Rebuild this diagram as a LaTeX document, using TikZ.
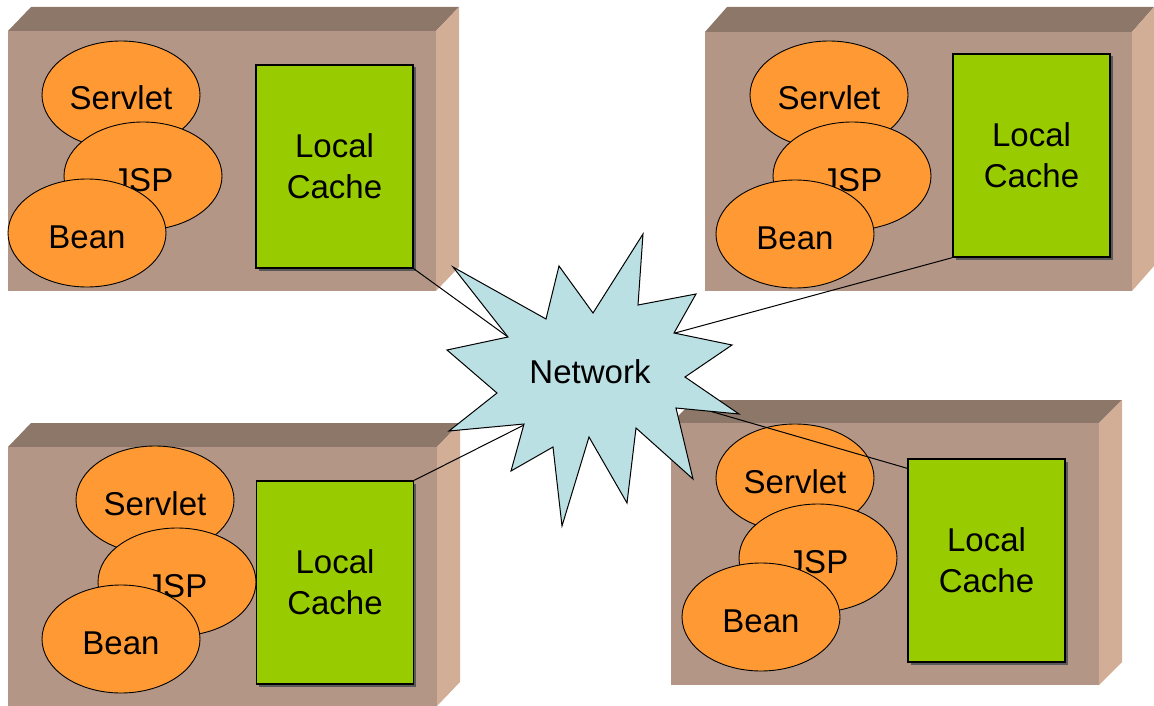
\documentclass[tikz,border=0pt]{standalone}
\usepackage{fontspec}
\setmainfont{Liberation Sans}
\usetikzlibrary{shapes.geometric,shadows,calc}

\definecolor{frontface}{HTML}{B39686}
\definecolor{topface}{HTML}{8C7769}
\definecolor{sideface}{HTML}{D3AE97}
\definecolor{compfill}{HTML}{FF9933}
\definecolor{cachefill}{HTML}{99CC00}
\definecolor{netfill}{HTML}{BAE0E4}

\tikzset{
  labelfont/.style={font=\fontsize{33}{41}\selectfont},
  comp/.style={ellipse, draw=black, line width=0.9pt, fill=compfill,
    minimum width=158pt, minimum height=108pt, inner sep=0pt,
    text height=30pt, text depth=0pt, labelfont},
  cache/.style={rectangle, draw=black, line width=1.3pt, fill=cachefill,
    minimum width=157pt, minimum height=203pt, inner sep=0pt,
    align=center, labelfont,
    drop shadow={shadow xshift=2.5pt, shadow yshift=-2.5pt, fill=black!65, opacity=1}},
  link/.style={draw=black, line width=1pt},
  cloud/.style={fill=netfill, draw=black, line width=1pt, line join=miter},
}

% a 3-D block: front face (left,top)-(right,bottom), depth (dx,dy) up-right
\newcommand\machineblock[6]{%
  \fill[topface] (#1,#2) -- (#1+#5,#2-#6) -- (#3+#5,#2-#6) -- (#3,#2) -- cycle;
  \fill[sideface] (#3,#2) -- (#3+#5,#2-#6) -- (#3+#5,#4-#6) -- (#3,#4) -- cycle;
  \fill[frontface] (#1,#2) rectangle (#3,#4);
}

\begin{document}
\begin{tikzpicture}[x=1pt,y=-1pt]
\useasboundingbox (0,0) rectangle (1154,706);

% ---- server blocks ----
\machineblock{8}{31}{436}{291}{23}{24}
\node[comp] (s1) at (121,95)  {Servlet};
\node[comp] (j1) at (143,176) {JSP};
\node[comp] (b1) at (87,233)  {Bean};
\node[cache] (c1) at (334.5,166.5) {Local\\Cache};

\machineblock{705}{32}{1132}{291}{22}{25}
\node[comp] (s2) at (829,95)  {Servlet};
\node[comp] (j2) at (852,176) {JSP};
\node[comp] (b2) at (795,234) {Bean};
\node[cache] (c2) at (1031.5,155.5) {Local\\Cache};

\machineblock{8}{447}{437}{706}{23}{24}
\node[comp] (s3) at (155,500) {Servlet};
\node[comp] (j3) at (177,582) {JSP};
\node[comp] (b3) at (121,639) {Bean};
\node[cache] (c3) at (335,582.5) {Local\\Cache};

\machineblock{671}{423}{1099}{685}{23}{23}
\node[comp] (s4) at (795,478) {Servlet};
\node[comp] (j4) at (818,558) {JSP};
\node[comp] (b4) at (761,617) {Bean};
\node[cache] (c4) at (986.5,560.5) {Local\\Cache};

% ---- attachment points on the network burst ----
\coordinate (ntl) at (508,337);
\coordinate (ntr) at (675,333);
\coordinate (nbl) at (524,425);
\coordinate (nbr) at (682,403);

% ---- links ----
\draw[link] (c1.south east) -- (ntl);
\draw[link] (c2.south west) -- (ntr);
\draw[link] (c3.north east) -- (nbl);
\draw[link] ($(c4.north west)+(0,10)$) -- (nbr);

% ---- network burst ----
\draw[cloud] (453,267) -- (546,319) -- (559,266) -- (593,313) -- (643,234)
  -- (638,305) -- (696,294) -- (674,333) -- (732,345) -- (685,377)
  -- (739,414) -- (676,408) -- (693,479) -- (636,428) -- (627,503)
  -- (589,437) -- (562,526) -- (553,447) -- (511,471) -- (524,424)
  -- (449,431) -- (497,393) -- (447,350) -- (508,337) -- cycle;
\node[labelfont] (net) at (590,372) {Network};
\end{tikzpicture}
\end{document}
